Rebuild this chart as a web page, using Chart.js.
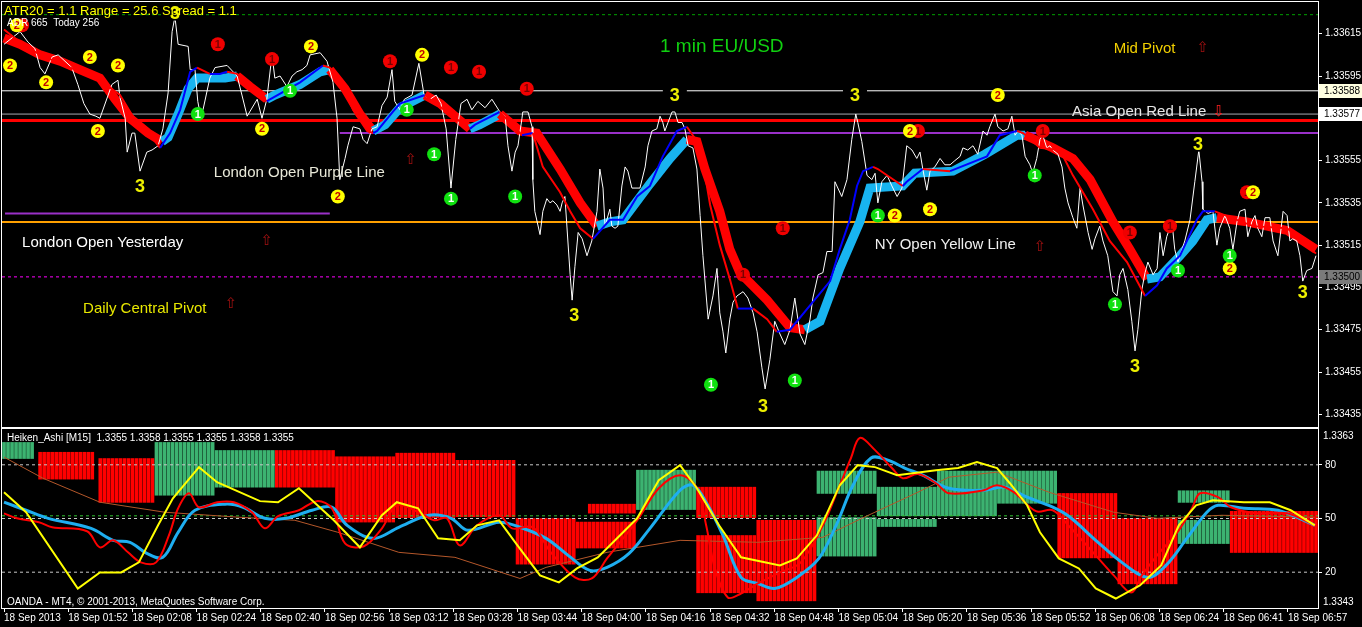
<!DOCTYPE html>
<html>
<head>
<meta charset="utf-8">
<script src="https://cdn.jsdelivr.net/npm/chart.js@4.4.1/dist/chart.umd.min.js"></script>
<style>
  html, body { margin: 0; padding: 0; background: #000; }
  #wrap { position: relative; width: 1362px; height: 627px; overflow: hidden; background: #000; }
  canvas { position: absolute; left: 0; }
  #top { top: 0; }
  #bottom { top: 428px; }
</style>
</head>
<body>
<div id="wrap">
  <canvas id="top" width="1362" height="428"></canvas>
  <canvas id="bottom" width="1362" height="199"></canvas>
</div>
<script>
// bars are 1 minute each, bar 0 = first visible bar
var FIRST_BAR = -0.5, LAST_BAR = 327.5;

var tickBars = [0, 16, 32, 48, 64, 80, 96, 112, 128, 144, 160, 176, 192, 208, 224, 240, 256, 272, 288, 304, 320];
var timeLabels = ['18 Sep 2013', '18 Sep 01:52', '18 Sep 02:08', '18 Sep 02:24', '18 Sep 02:40', '18 Sep 02:56',
  '18 Sep 03:12', '18 Sep 03:28', '18 Sep 03:44', '18 Sep 04:00', '18 Sep 04:16', '18 Sep 04:32', '18 Sep 04:48',
  '18 Sep 05:04', '18 Sep 05:20', '18 Sep 05:36', '18 Sep 05:52', '18 Sep 06:08', '18 Sep 06:24', '18 Sep 06:41', '18 Sep 06:57'];

var priceTicks = [1.33435, 1.33455, 1.33475, 1.33495, 1.33515, 1.33535, 1.33555, 1.33575, 1.33595, 1.33615];
var oscTicks = [20, 50, 80];

// close price of each bar (white line) [bar, price]
var closeLine = [
[0,1.33610],[2,1.33613],[4,1.33616],[6,1.33611],[7.7,1.33608],[9,1.33599],[10.2,1.33596],[12,1.33604],[13.5,1.33605],[15.2,1.33602],[16.9,1.33599],[18.4,1.33591],[19.9,1.33582],[21.4,1.33577],[22.9,1.33576],[23.9,1.33575],[26.9,1.33591],[28.4,1.33593],[28.9,1.33585],[30.2,1.33575],[30.7,1.33559],[31.9,1.33568],[32.6,1.33568],[33.9,1.33550],[35.6,1.33559],[36.9,1.33560],[38.4,1.33562],[39.6,1.33570],[40.9,1.33587],[41.9,1.33616],[42.6,1.33623],[43.4,1.33610],[45.9,1.33609],[46.4,1.33598],[47.6,1.33598],[48.3,1.33583],[48.8,1.33578],[49.6,1.33579],[51.3,1.33594],[52.6,1.33599],[55.6,1.33600],[58.1,1.33595],[59.3,1.33586],[60.6,1.33576],[63.1,1.33584],[64.3,1.33575],[65.5,1.33584],[66.8,1.33605],[67.5,1.33594],[68.8,1.33595],[70.5,1.33590],[71.8,1.33595],[73,1.33597],[74.3,1.33598],[75.5,1.33600],[76.3,1.33605],[78.8,1.33606],[80.5,1.33602],[82,1.33592],[83,1.33575],[83.7,1.33546],[85,1.33556],[85.7,1.33562],[87,1.33571],[88.7,1.33570],[89.5,1.33565],[90.5,1.33563],[91.7,1.33570],[93,1.33571],[94.2,1.33581],[95.5,1.33585],[96.7,1.33598],[97.4,1.33583],[98.7,1.33579],
[99.8,1.33584],[101.7,1.33586],[103.4,1.33601],[104.7,1.33586],[106.2,1.33584],[107.7,1.33586],[108.9,1.33582],[110.2,1.33570],[111.4,1.33542],[112.6,1.33565],[113.9,1.33582],[115.4,1.33584],[116.6,1.33579],[118.1,1.33583],[119.9,1.33580],[121.6,1.33584],[123.6,1.33578],[124.9,1.33576],[125.6,1.33562],[126.6,1.33550],[127.4,1.33559],[128.1,1.33562],[129.1,1.33575],[129.3,1.33578],[130.6,1.33578],[131.6,1.33571],[131.8,1.33546],[132.3,1.33531],[133.6,1.33520],[134.3,1.33531],[135.3,1.33537],[136.1,1.33535],[136.8,1.33536],[137.8,1.33534],[138.6,1.33531],[139.1,1.33535],[139.8,1.33538],[141.1,1.33501],[141.6,1.33489],[142.3,1.33505],[143.1,1.33521],[144.1,1.33518],[145.3,1.33510],[146.5,1.33517],[147.8,1.33531],[148.5,1.33551],[149.3,1.33542],[149.8,1.33524],[151,1.33532],[151.5,1.33524],[152.3,1.33523],[153,1.33524],[154,1.33543],[154.8,1.33552],[155.5,1.33550],[156.5,1.33542],[158.5,1.33542],[159.8,1.33552],[160.5,1.33562],[161.5,1.33569],[162.7,1.33570],[163.5,1.33576],[164.2,1.33573],[164.7,1.33569],[165.5,1.33573],[166.5,1.33578],[167.2,1.33578],[168,1.33573],[169,1.33573],[169.7,1.33570],[170.5,1.33562],[171.7,1.33561],[172.7,1.33551],[173.5,1.33529],[174.2,1.33510],[175.5,1.33480],[176.7,1.33491],[177.7,1.33504],[178.4,1.33483],[179.2,1.33474],[179.9,1.33464],[180.9,1.33480],[181.7,1.33488],[182.7,1.33491],[184.2,1.33493],[185.4,1.33490],[186.7,1.33483],[187.7,1.33474],[188.9,1.33457],[189.7,1.33447],[190.9,1.33461],[192.1,1.33479],[193.4,1.33473],[194.6,1.33468],[195.9,1.33475],[197.1,1.33490],[198.4,1.33473],[199.6,1.33468],[200.9,1.33480],[201.6,1.33490],[202.9,1.33501],
[204.1,1.33502],[205.1,1.33512],[206.4,1.33512],[207.1,1.33545],[208.8,1.33538],[210.1,1.33546],[211.3,1.33565],[212.3,1.33577],[212.8,1.33573],[213.8,1.33564],[215.1,1.33548],[216.3,1.33546],[217.1,1.33549],[217.8,1.33535],[218.8,1.33545],[220.1,1.33548],[221.3,1.33543],[222.6,1.33538],[223.8,1.33542],[225,1.33562],[226.3,1.33560],[227.5,1.33556],[228.3,1.33559],[229,1.33551],[230,1.33541],[230.8,1.33550],[232,1.33552],[233.3,1.33556],[234.5,1.33553],[235.8,1.33553],[237,1.33555],[238.3,1.33557],[239,1.33561],[240.2,1.33560],[241.5,1.33562],[242.7,1.33558],[244,1.33569],[245,1.33567],[245.7,1.33571],[247,1.33577],[247.7,1.33571],[249,1.33569],[250.2,1.33570],[251.2,1.33576],[252,1.33567],[252.7,1.33569],[253.7,1.33567],[254.5,1.33557],[255.7,1.33553],[256.4,1.33549],[257.4,1.33556],[258.2,1.33565],[258.9,1.33567],[259.9,1.33561],[260.7,1.33562],[261.4,1.33560],[262.7,1.33558],[263.7,1.33552],[264.4,1.33542],[265.2,1.33535],[266.4,1.33528],[267.4,1.33523],[268.2,1.33542],[268.9,1.33534],[270.2,1.33521],[271.2,1.33513],[271.9,1.33518],[273.1,1.33524],[273.9,1.33517],[275.1,1.33510],[276.4,1.33493],[277.4,1.33491],[278.1,1.33501],[278.9,1.33504],[280.1,1.33494],[281.1,1.33479],[281.9,1.33465],[282.6,1.33475],[283.6,1.33494],[284.4,1.33502],[285.1,1.33507],[286.4,1.33501],[287.4,1.33504],[288.1,1.33521],[288.9,1.33510],[289.8,1.33519],[291.1,1.33526],[291.8,1.33513],[292.6,1.33507],[293.6,1.33513],[294.3,1.33517],[295.6,1.33527],[296.8,1.33545],[297.8,1.33560],[298.6,1.33545],[298.8,1.33532],[300.1,1.33530],[301.3,1.33531],[302.3,1.33515],[303,1.33523],[304.3,1.33529],[305.5,1.33523],[306.3,1.33513],[307.3,1.33526],[308,1.33531],[309.3,1.33532],[310,1.33519],[311,1.33526],[311.8,1.33529],[312.5,1.33523],[313.5,1.33519],[314.3,1.33528],[315.5,1.33528],[316.3,1.33517],[317.5,1.33510],[318.8,1.33531],[319.8,1.33529],[320.5,1.33517],[321.2,1.33518],[322.2,1.33517],[323,1.33510],[323.7,1.33498],[324.7,1.33503],[326,1.33504],[327,1.33510]
];

// smoothed heiken ashi band (thick red / light blue)
var haBand = [
[0,1.33613],[4,1.33610],[9,1.33605],[14,1.33602],[18.9,1.33598],[23.9,1.33594],[27.7,1.33584],[31.4,1.33575],[35.9,1.33568],[39.4,1.33564],[40.9,1.33566],[43.4,1.33577],[45.9,1.33589],[48.1,1.33594],[51.3,1.33594],[55.1,1.33594],[58.1,1.33595],[61.3,1.33590],[65.5,1.33584],[67.5,1.33586],[73.8,1.33591],[78.8,1.33597],[81.2,1.33598],[85,1.33589],[88.7,1.33577],[92,1.33569],[95,1.33572],[98.7,1.33580],[104.9,1.33586],[108.7,1.33582],[116.1,1.33570],[118.6,1.33572],[123.6,1.33577],[128.6,1.33569],[132.8,1.33568],[138.6,1.33551],[143.6,1.33535],[147.8,1.33524],[151,1.33526],[154.3,1.33527],[161,1.33544],[166,1.33556],[170.2,1.33565],[172.7,1.33564],[174.7,1.33551],[178.4,1.33531],[180.9,1.33513],[183.4,1.33502],[190.2,1.33489],[195.9,1.33476],[199.6,1.33475],[203.4,1.33479],[208.3,1.33504],[213.3,1.33526],[215.8,1.33542],[224,1.33543],[227,1.33549],[236.5,1.33550],[244.5,1.33558],[252.5,1.33567],[254.5,1.33567],[261.4,1.33561],[266.4,1.33556],[270.7,1.33546],[276.4,1.33526],[280.6,1.33513],[284.9,1.33499],[288.1,1.33500],[293.1,1.33510],[296.3,1.33517],[299.8,1.33527],[302.3,1.33528],[309.8,1.33526],[319.8,1.33522],[327,1.33513]
];

// thin moving average (red falling / blue rising)
var maLine = [
[0,1.33617],[4,1.33611],[9,1.33605],[14,1.33601],[18.9,1.33597],[23.9,1.33593],[28.9,1.33586],[32.1,1.33576],[35.6,1.33569],[38.9,1.33561],[41.4,1.33568],[43.9,1.33579],[46.4,1.33597],[48.1,1.33599],[51.3,1.33596],[53.8,1.33596],[55.6,1.33597],[58.1,1.33596],[58.8,1.33595],[63.8,1.33586],[65.5,1.33583],[66.3,1.33584],[73.8,1.33592],[79.5,1.33600],[81.2,1.33599],[83.7,1.33594],[87,1.33579],[90.5,1.33569],[92,1.33568],[93,1.33569],[96.9,1.33578],[98.7,1.33582],[104.9,1.33586],[106.2,1.33584],[116.1,1.33570],[117.4,1.33572],[123.6,1.33578],[126.1,1.33573],[129.1,1.33567],[131.8,1.33568],[134.3,1.33552],[138.6,1.33540],[141.1,1.33531],[143.6,1.33523],[146.8,1.33518],[151,1.33527],[154.3,1.33527],[157.8,1.33538],[161,1.33543],[164.2,1.33557],[167.7,1.33569],[170.2,1.33571],[173.5,1.33562],[176,1.33534],[178.4,1.33515],[180.9,1.33499],[182.9,1.33485],[186.7,1.33485],[190.2,1.33480],[192.6,1.33474],[195.9,1.33475],[205.9,1.33498],[208.3,1.33513],[210.8,1.33527],[212.6,1.33543],[214.1,1.33550],[216.6,1.33552],[217.8,1.33551],[224,1.33543],[225,1.33545],[229,1.33551],[235.8,1.33550],[245,1.33557],[248.2,1.33567],[252.5,1.33569],[254,1.33568],[258.2,1.33561],[263.2,1.33560],[266.4,1.33548],[271.4,1.33532],[275.6,1.33517],[279.9,1.33507],[284.4,1.33491],[287.4,1.33496],[289.8,1.33504],[293.1,1.33510],[297.3,1.33527],[298.8,1.33531],[301.8,1.33531],[311.3,1.33524],[319.8,1.33523],[323.7,1.33517],[327,1.33511]
];

// horizontal levels
var levelTopDots = 1.33624;
var levelMidPivot = 1.33588;
var levelAsiaOpen = 1.33577;
var levelAsiaRed = 1.33574;
var levelLondonOpen = 1.33568;
var levelLondonYesterday = 1.33530;
var levelNyOpen = 1.33526;
var levelDailyPivot = 1.33500;
var londonOpenBar = 83.7, yesterdayFrom = 0.25, yesterdayTo = 81.2;

// signal markers [bar, price]
var redOnes = [[4.5,1.33619],[53.3,1.33610],[66.8,1.33603],[96.2,1.33602],[111.4,1.33599],[118.4,1.33597],[130.3,1.33589],[194.1,1.33523],[184.2,1.33501],[227.8,1.33569],[258.9,1.33569],[280.6,1.33521],[290.6,1.33524],[309.8,1.33540]];
var yellowTwos = [[1.5,1.33600],[3.2,1.33619],[10.5,1.33592],[21.4,1.33604],[28.4,1.33600],[23.4,1.33569],[64.3,1.33570],[76.5,1.33609],[83.2,1.33538],[104.2,1.33605],[225.8,1.33569],[222,1.33529],[230.8,1.33532],[247.7,1.33586],[305.5,1.33504],[311.3,1.33540]];
var greenOnes = [[48.3,1.33577],[71.3,1.33588],[100.4,1.33579],[107.2,1.33558],[111.4,1.33537],[127.4,1.33538],[176.2,1.33449],[197.1,1.33451],[217.8,1.33529],[256.9,1.33548],[276.9,1.33487],[292.6,1.33503],[305.5,1.33510]];
var threeMarks = [[33.9,1.33543],[42.6,1.33625],[142.1,1.33482],[167.2,1.33586],[212.1,1.33586],[189.2,1.33439],[297.6,1.33563],[281.9,1.33458],[323.7,1.33493]];

// chart objects [bar, price, text]
var noteLabels = [
  [163.5, 1.33609, '1 min EU/USD'],
  [276.6, 1.33608, 'Mid Pivot'],
  [266.2, 1.33578, 'Asia Open Red Line'],
  [52.3, 1.33549, 'London Open Purple Line'],
  [4.5, 1.33516, 'London Open Yesterday'],
  [217, 1.33515, 'NY Open Yellow Line'],
  [19.7, 1.33485, 'Daily Central Pivot']
];
var arrowsUp = [[298.8,1.33608],[101.4,1.33555],[65.5,1.33517],[258.2,1.33514],[56.6,1.33487]];
var arrowsDown = [[302.8,1.33578]];

// Heiken Ashi M15 blocks in the sub window [fromBar, toBar, low, high, up?]
var haBlocks = [
  [0, 8, 1.33597, 1.33615, true],
  [9, 23, 1.33574, 1.33604, false],
  [24, 38, 1.33548, 1.33597, false],
  [38, 53, 1.33556, 1.33615, true],
  [53, 68, 1.33565, 1.33606, true],
  [68, 83, 1.33565, 1.33606, false],
  [83, 98, 1.33526, 1.33599, false],
  [98, 113, 1.33531, 1.33603, false],
  [113, 128, 1.33532, 1.33595, false],
  [128, 143, 1.33479, 1.33530, false],
  [143, 158, 1.33497, 1.33526, false],
  [146, 158, 1.33536, 1.33546, false],
  [158, 173, 1.33540, 1.33584, true],
  [173, 188, 1.33531, 1.33565, false],
  [173, 188, 1.33447, 1.33511, false],
  [188, 203, 1.33438, 1.33528, false],
  [203, 218, 1.33558, 1.33583, true],
  [203, 218, 1.33488, 1.33531, true],
  [218, 233, 1.33533, 1.33565, true],
  [218, 233, 1.33521, 1.33529, true],
  [233, 248, 1.33533, 1.33583, true],
  [248, 263, 1.33547, 1.33583, true],
  [263, 278, 1.33486, 1.33558, false],
  [278, 293, 1.33457, 1.33530, false],
  [293, 306, 1.33548, 1.33561, true],
  [293, 306, 1.33502, 1.33528, true],
  [306, 328, 1.33492, 1.33538, false]
];

// oscillators in the sub window [bar, value 0-100]
var yellowOsc = [[0,64.7],[5.5,53.5],[18.4,10.9],[23.9,19.9],[29.2,19.9],[33.6,25.5],[38.4,46.2],[42.1,61.3],[48.6,78.7],[53.1,70.3],[63.8,59.7],[68.3,59.1],[73.5,66.9],[82.2,49.0],[88.7,33.9],[94.2,51.8],[97.9,59.1],[103.2,55.7],[108.2,38.9],[113.6,37.8],[117.9,46.2],[123.4,49.0],[127.6,36.1],[133.6,18.2],[138.3,14.3],[142.8,22.1],[148,28.3],[157.8,50.1],[163.2,71.4],[168.5,79.8],[172.7,66.9],[178.2,46.2],[183.7,28.3],[193.4,23.8],[197.6,27.7],[202.6,40.6],[208.3,68.6],[212.8,79.8],[217.1,78.7],[222.6,74.2],[232.3,77.0],[237.8,78.2],[242.5,81.5],[247.5,78.2],[250.7,69.7],[255,57.4],[258.2,42.3],[262.9,27.7],[267.9,22.1],[272.1,10.9],[277.1,5.3],[283.1,12.6],[288.4,23.8],[292.8,46.2],[297.1,57.4],[301.3,60.2],[309,59.1],[315.5,59.1],[320.7,54.6],[326.7,46.2]];
var redOsc = [[0,52.9],[3.2,50.1],[8.7,47.9],[12,45.1],[20.7,42.9],[23.9,33.9],[27.2,37.8],[30.9,31.1],[34.1,25.5],[37.9,25.5],[41.1,40.6],[43.4,55.7],[46.1,64.1],[48.6,56.3],[53.1,59.1],[57.3,59.1],[61.8,53.5],[65,44.5],[68.3,51.3],[73.5,54.6],[78,59.7],[81.7,55.7],[85,36.1],[89.7,34.5],[94.2,44.5],[97.9,57.4],[103.9,52.9],[107.2,49.0],[110.4,50.1],[113.6,35.0],[117.9,46.2],[123.4,51.8],[126.6,44.5],[131.8,45.1],[136.3,31.1],[142.3,17.1],[146.5,16.5],[150.3,27.7],[157.8,49.0],[163.2,66.9],[168.5,74.2],[172.7,66.9],[175,46.2],[177.2,22.1],[180.4,5.9],[183.7,8.1],[187.9,13.7],[193.4,19.9],[198.6,25.5],[204.1,46.2],[208.3,68.6],[211.1,83.8],[213.3,95.0],[217.1,88.2],[221.3,78.2],[224,72.5],[227.8,74.8],[232.3,69.7],[235.5,64.1],[244.2,65.8],[247.5,68.6],[251.7,64.7],[257.2,54.1],[261.4,54.6],[265.7,45.1],[272.1,29.4],[276.6,18.2],[280.9,8.7],[283.6,18.2],[287.4,29.4],[292.8,43.4],[296.1,55.7],[298.1,64.1],[302.6,61.9],[305.8,56.3],[312.3,52.9],[319.8,52.9],[326.7,46.2]];
var blueOsc = [[0,59.1],[5.5,54.6],[11,50.1],[21.7,44.5],[27.2,37.8],[31.4,36.7],[35.6,30.5],[39.6,28.3],[43.4,42.3],[47.6,54.6],[55.1,58.0],[59.6,56.3],[65,50.1],[70.3,50.1],[76.8,54.6],[81.7,56.3],[85.5,46.2],[92,38.9],[98.4,45.1],[105.9,51.8],[111.4,50.1],[115.6,43.4],[123.4,47.9],[128.6,45.1],[135.1,38.9],[140.6,29.4],[146,21.0],[150.3,22.7],[155.8,30.5],[161,44.5],[168.5,65.8],[171.7,68.6],[175,59.1],[179.2,40.6],[183.7,17.1],[187.9,13.7],[192.1,10.9],[197.6,17.1],[203.1,27.7],[207.4,46.2],[211.6,68.6],[216.1,83.8],[220.3,82.6],[224.5,78.2],[229,74.2],[235.5,66.9],[244.2,65.8],[249.5,67.5],[255,61.9],[261.4,56.3],[265.7,50.7],[272.1,37.8],[278.6,25.5],[285.1,17.1],[289.6,23.8],[294.8,38.9],[299.8,53.5],[302.6,57.4],[309,55.7],[317.5,54.6],[326.7,46.2]];
var slowOsc = [[0,84.3],[9.7,72.5],[23.9,59.1],[40.1,53.5],[58.6,50.7],[72.5,49.0],[83.2,42.3],[98.4,31.1],[112.4,28.3],[128.6,16.5],[135.1,22.7],[150.3,31.1],[168.5,37.8],[187.9,36.7],[204.1,39.5],[213.8,50.1],[227.8,64.7],[235.5,73.1],[247.5,75.9],[260.4,64.7],[276.6,53.5],[287.4,50.1],[303.6,51.8],[326.7,50.7]];
var signalLevel = 51.5;

var HA_MIN = 1.3343, HA_MAX = 1.3363;
var headerText = 'ATR20 = 1.1 Range = 25.6 Spread = 1.1';
var subHeaderText = 'ADR 665  Today 256';
var haTitle = 'Heiken_Ashi [M15]  1.3355 1.3358 1.3355 1.3355 1.3358 1.3355';
var copyright = 'OANDA - MT4, \u00a9 2001-2013, MetaQuotes Software Corp.';

Chart.defaults.font.family = '"Liberation Sans", Arial, sans-serif';
Chart.defaults.font.size = 10;
Chart.defaults.color = '#ffffff';

function xy(list) {
  return list.map(function (p) { return { x: p[0], y: p[1] }; });
}

function flat(value, from, to) {
  return [{ x: from, y: value }, { x: to, y: value }];
}

function lineSet(data, color, width, order, extra) {
  var ds = { type: 'line', data: data, borderColor: color, borderWidth: width, pointRadius: 0,
    tension: 0, order: order, fill: false };
  for (var k in extra) ds[k] = extra[k];
  return ds;
}

function byDirection(up, down) {
  return function (ctx) { return ctx.p1.parsed.y >= ctx.p0.parsed.y ? up : down; };
}

// keep the plot area where MT4 puts it (no room kept for half labels)
function noLabelPadding(s) {
  s.paddingTop = 0; s.paddingBottom = 0; s.paddingLeft = 0; s.paddingRight = 0;
}

var framePlugin = {
  id: 'frame',
  afterDraw: function (chart) {
    var a = chart.chartArea, ctx = chart.ctx;
    ctx.save();
    ctx.strokeStyle = '#ffffff';
    ctx.lineWidth = 1;
    ctx.strokeRect(a.left - 0.5, a.top - 0.5, a.right - a.left + 1, a.bottom - a.top + 1);
    ctx.restore();
  }
};

var markPlugin = {
  id: 'marks',
  afterDatasetsDraw: function (chart) {
    var ctx = chart.ctx, x = chart.scales.x, y = chart.scales.y;
    ctx.save();
    ctx.textAlign = 'center';
    ctx.textBaseline = 'middle';

    threeMarks.forEach(function (m) {
      var px = x.getPixelForValue(m[0]), py = y.getPixelForValue(m[1]);
      ctx.fillStyle = '#000';
      ctx.fillRect(px - 12, py - 8, 24, 16);
      ctx.font = 'bold 18px "Liberation Sans", Arial';
      ctx.fillStyle = '#EEF000';
      ctx.fillText('3', px, py + 1);
    });

    function disc(list, fill, ink) {
      list.forEach(function (m) {
        var px = x.getPixelForValue(m[0]), py = y.getPixelForValue(m[1]);
        ctx.beginPath();
        ctx.arc(px, py, 7, 0, Math.PI * 2);
        ctx.fillStyle = fill;
        ctx.fill();
        ctx.font = 'bold 11px "Liberation Sans", Arial';
        ctx.fillStyle = ink;
        ctx.fillText(list === yellowTwos ? '2' : '1', px, py + 0.5);
      });
    }
    disc(redOnes, '#F00000', '#7A0000');
    disc(yellowTwos, '#FFFF00', '#C00000');
    disc(greenOnes, '#10E010', '#FFFFFF');

    // text objects
    var noteColor = ['#10D010', '#F2D000', '#E8E8E8', '#E8E8D8', '#FFFFFF', '#F0F0F0', '#E8E800'];
    var noteSize = [19, 15, 15, 15, 15, 15, 15];
    ctx.textAlign = 'left';
    noteLabels.forEach(function (n, i) {
      ctx.font = noteSize[i] + 'px "Liberation Sans", Arial';
      ctx.fillStyle = noteColor[i];
      ctx.fillText(n[2], x.getPixelForValue(n[0]), y.getPixelForValue(n[1]));
    });
    ctx.textAlign = 'center';
    ctx.font = '15px "DejaVu Sans"';
    ctx.fillStyle = '#A01010';
    arrowsUp.forEach(function (a) {
      ctx.fillText('\u21e7', x.getPixelForValue(a[0]), y.getPixelForValue(a[1]));
    });
    ctx.fillStyle = '#FF2020';
    arrowsDown.forEach(function (a) {
      ctx.fillText('\u21e9', x.getPixelForValue(a[0]), y.getPixelForValue(a[1]));
    });

    // screen labels of the indicators
    ctx.textAlign = 'left';
    ctx.font = '13px "Liberation Sans", Arial';
    ctx.fillStyle = '#FFFF00';
    ctx.fillText(headerText, 4, 11);
    ctx.font = '10px "Liberation Sans", Arial';
    ctx.fillStyle = '#FFFFFF';
    ctx.fillText(subHeaderText, 7, 23);
    ctx.restore();
  }
};

// price boxes on the right scale
var priceBoxPlugin = {
  id: 'priceBoxes',
  afterDraw: function (chart) {
    var ctx = chart.ctx, y = chart.scales.y, left = chart.chartArea.right + 1;
    var boxes = [[levelMidPivot, '#FFFFE0', '#000000'], [levelAsiaOpen, '#FFFFFF', '#000000'], [levelDailyPivot, '#7A7A7A', '#000000']];
    ctx.save();
    ctx.font = '10px "Liberation Sans", Arial';
    ctx.textBaseline = 'middle';
    ctx.textAlign = 'left';
    boxes.forEach(function (b) {
      var py = Math.round(y.getPixelForValue(b[0]));
      ctx.fillStyle = b[1];
      ctx.fillRect(left, py - 7, 1362 - left, 14);
      ctx.fillStyle = b[2];
      ctx.fillText(b[0].toFixed(5), left + 5, py + 0.5);
    });
    ctx.restore();
  }
};

var topChart = new Chart(document.getElementById('top'), {
  type: 'line',
  data: {
    datasets: [
      lineSet(xy(maLine), '#FF0000', 2, 1, { segment: { borderColor: byDirection('#0000FF', '#FF0000') } }),
      lineSet(xy(closeLine), '#FFFFFF', 1, 2),
      lineSet(xy(haBand), '#FF0000', 9, 3, { borderCapStyle: 'butt', segment: { borderColor: byDirection('#18B4F0', '#FF0000') } }),
      lineSet(flat(levelTopDots, FIRST_BAR, LAST_BAR), '#00A000', 1, 6, { borderDash: [3, 3] }),
      lineSet(flat(levelMidPivot, FIRST_BAR, LAST_BAR), '#FFFFFF', 1, 6),
      lineSet(flat(levelAsiaOpen, FIRST_BAR, LAST_BAR), '#A8A8B0', 1, 6),
      lineSet(flat(levelAsiaRed, FIRST_BAR, LAST_BAR), '#FF0000', 3, 6),
      lineSet(flat(levelLondonOpen, londonOpenBar, LAST_BAR), '#9A30C8', 2, 6),
      lineSet(flat(levelLondonYesterday, yesterdayFrom, yesterdayTo), '#9A30C8', 2, 6),
      lineSet(flat(levelNyOpen, FIRST_BAR, LAST_BAR), '#FFA000', 2, 6),
      lineSet(flat(levelDailyPivot, FIRST_BAR, LAST_BAR), '#FF00FF', 1, 6, { borderDash: [3, 3] })
    ]
  },
  options: {
    responsive: false,
    animation: false,
    devicePixelRatio: 1,
    layout: { padding: { left: 2, top: 2, bottom: 1, right: 0 } },
    plugins: { legend: { display: false }, tooltip: { enabled: false } },
    scales: {
      x: { type: 'linear', min: FIRST_BAR, max: LAST_BAR, display: false },
      y: {
        position: 'right', min: 1.33429, max: 1.33630,
        afterBuildTicks: function (s) { s.ticks = priceTicks.map(function (v) { return { value: v }; }); },
        afterFit: function (s) { s.width = 44; noLabelPadding(s); },
        ticks: { color: '#FFFFFF', padding: 3, callback: function (v) { return Number(v).toFixed(5); } },
        grid: { drawOnChartArea: false, drawTicks: true, tickLength: 4, color: '#FFFFFF' },
        border: { color: '#FFFFFF' }
      }
    }
  },
  plugins: [framePlugin, markPlugin, priceBoxPlugin]
});

// striped histogram: one thin bar per minute for each M15 block
var haUpBars = [], haDownBars = [];
haBlocks.forEach(function (b) {
  for (var i = b[0]; i < b[1]; i++) {
    (b[4] ? haUpBars : haDownBars).push({ x: i, y: [b[2], b[3]] });
  }
});

var subLabelPlugin = {
  id: 'subLabels',
  afterDraw: function (chart) {
    var ctx = chart.ctx, ha = chart.scales.yHA, a = chart.chartArea;
    ctx.save();
    ctx.font = '10px "Liberation Sans", Arial';
    ctx.fillStyle = '#FFFFFF';
    ctx.textAlign = 'left';
    ctx.textBaseline = 'top';
    ctx.fillText(HA_MAX.toFixed(4), a.right + 5, ha.getPixelForValue(HA_MAX) + 2);
    ctx.fillText(haTitle, 7, a.top + 4);
    ctx.textBaseline = 'bottom';
    ctx.fillText(HA_MIN.toFixed(4), a.right + 5, ha.getPixelForValue(HA_MIN) - 1);
    ctx.fillText(copyright, 7, a.bottom - 1);
    ctx.restore();
  }
};

var bottomChart = new Chart(document.getElementById('bottom'), {
  type: 'line',
  data: {
    datasets: [
      lineSet(xy(yellowOsc), '#FFFF00', 2, 1),
      lineSet(xy(redOsc), '#FF0000', 2, 2, { tension: 0.35 }),
      lineSet(xy(blueOsc), '#1EAEF0', 3, 3, { tension: 0.35 }),
      lineSet(xy(slowOsc), '#B4572A', 1, 4),
      lineSet(flat(80, FIRST_BAR, LAST_BAR), '#C8C8C8', 1, 5, { borderDash: [3, 3] }),
      lineSet(flat(50, FIRST_BAR, LAST_BAR), '#C8C8C8', 1, 5, { borderDash: [3, 3] }),
      lineSet(flat(20, FIRST_BAR, LAST_BAR), '#C8C8C8', 1, 5, { borderDash: [3, 3] }),
      lineSet(flat(signalLevel, FIRST_BAR, LAST_BAR), '#30C030', 1, 5, { borderDash: [3, 3] }),
      { type: 'bar', yAxisID: 'yHA', data: haUpBars, backgroundColor: '#3CB371', barThickness: 3, grouped: false, order: 8 },
      { type: 'bar', yAxisID: 'yHA', data: haDownBars, backgroundColor: '#FF0000', barThickness: 3, grouped: false, order: 8 }
    ]
  },
  options: {
    responsive: false,
    animation: false,
    devicePixelRatio: 1,
    layout: { padding: { left: 2, top: 1, bottom: 0, right: 0 } },
    plugins: { legend: { display: false }, tooltip: { enabled: false } },
    scales: {
      x: {
        type: 'linear', min: FIRST_BAR, max: LAST_BAR, offset: false,
        afterBuildTicks: function (s) { s.ticks = tickBars.map(function (v) { return { value: v }; }); },
        afterFit: function (s) { s.height = 19; noLabelPadding(s); },
        ticks: { color: '#FFFFFF', align: 'start', maxRotation: 0, autoSkip: false, padding: 0,
          callback: function (v, i) { return timeLabels[i]; } },
        grid: { drawOnChartArea: false, drawTicks: true, tickLength: 4, color: '#FFFFFF', offset: false },
        border: { color: '#FFFFFF' }
      },
      y: {
        position: 'right', min: 0, max: 100,
        afterBuildTicks: function (s) { s.ticks = oscTicks.map(function (v) { return { value: v }; }); },
        afterFit: function (s) { s.width = 44; noLabelPadding(s); },
        ticks: { color: '#FFFFFF', padding: 3 },
        grid: { drawOnChartArea: false, drawTicks: true, tickLength: 4, color: '#FFFFFF' },
        border: { color: '#FFFFFF' }
      },
      yHA: { display: false, min: HA_MIN, max: HA_MAX }
    }
  },
  plugins: [framePlugin, subLabelPlugin]
});
</script>
</body>
</html>
